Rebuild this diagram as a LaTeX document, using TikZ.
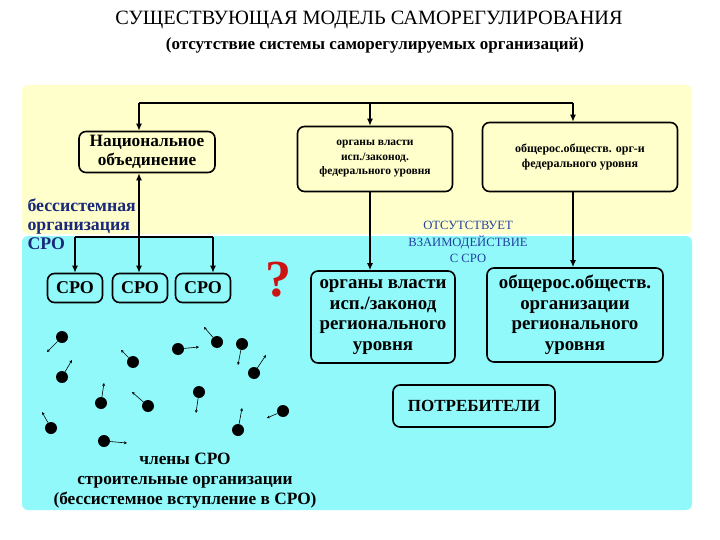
\documentclass[tikz,border=0pt]{standalone}
\usepackage{fontspec}
\setmainfont{Liberation Serif}
\usepackage{tikz}
\usetikzlibrary{arrows.meta}

\definecolor{paleyellow}{RGB}{255,255,204}
\definecolor{palecyan}{RGB}{145,249,250}
\definecolor{darkblue}{RGB}{25,40,120}
\definecolor{textblue}{RGB}{35,65,160}
\definecolor{qred}{RGB}{205,20,20}

\begin{document}
\begin{tikzpicture}[x=1pt, y=-1pt, >={Latex[length=7pt,width=6pt]},
  box/.style={draw, line width=1.6pt, rounded corners=7pt, align=center, inner sep=2pt},
  link/.style={->, line width=1.2pt},
  dot/.style={circle, fill=black, inner sep=0pt, minimum size=12pt},
  drift/.style={-{Stealth[length=3pt,width=3pt]}, line width=0.6pt}]
  \useasboundingbox (0,0) rectangle (720,540);

  % Title
  \node[font=\fontsize{20.3}{22}\selectfont] (title) at (369,20) {СУЩЕСТВУЮЩАЯ МОДЕЛЬ САМОРЕГУЛИРОВАНИЯ};
  \node[font=\fontsize{17}{19}\selectfont\bfseries] (subtitle) at (375,45) {(отсутствие системы саморегулируемых организаций)};

  % Backgrounds
  \fill[paleyellow, rounded corners=6pt] (22,85) rectangle (692,234);
  \fill[palecyan, rounded corners=6pt] (22,236) rectangle (692,510);

  % Federal level
  \node[box, minimum width=136pt, minimum height=41pt, font=\fontsize{17.3}{19}\selectfont\bfseries] (nat) at (147,152)
    {Национальное\\ объединение};
  \node[box, minimum width=155pt, minimum height=65pt, font=\fontsize{11.5}{14.5}\selectfont\bfseries] (fedorg) at (375,159)
    {органы власти\\ исп./законод.\\ федерального уровня};
  \node[box, minimum width=195pt, minimum height=69pt, font=\fontsize{12}{14.5}\selectfont\bfseries] (fedobsh) at (580,157)
    {общерос.обществ. орг-и\\ федерального уровня};

  % Regional level
  \node[box, minimum width=144pt, minimum height=92pt, font=\fontsize{18.9}{20.5}\selectfont\bfseries] (regorg) at (383,317)
    {органы власти\\ исп./законод\\ регионального\\ уровня};
  \node[box, minimum width=176pt, minimum height=94pt, font=\fontsize{18.9}{20.5}\selectfont\bfseries] (regobsh) at (575,315)
    {общерос.обществ.\\ организации\\ регионального\\ уровня};
  \node[box, minimum width=162pt, minimum height=42pt, font=\fontsize{17}{18}\selectfont\bfseries] (users) at (474,406)
    {ПОТРЕБИТЕЛИ};

  % SRO boxes
  \node[box, minimum width=55pt, minimum height=29pt, font=\fontsize{18}{18}\selectfont\bfseries] (sro1) at (75,288) {СРО};
  \node[box, minimum width=55pt, minimum height=29pt, font=\fontsize{18}{18}\selectfont\bfseries] (sro2) at (140,288) {СРО};
  \node[box, minimum width=55pt, minimum height=29pt, font=\fontsize{18}{18}\selectfont\bfseries] (sro3) at (203,288) {СРО};

  % Labels
  \node[anchor=west, align=left, text=darkblue, font=\fontsize{17.8}{19}\selectfont\bfseries] (chaos) at (24,224)
    {бессистемная\\ организация\\ СРО};
  \node[align=center, text=textblue, font=\fontsize{12.6}{16.5}\selectfont] (nolink) at (468,242)
    {ОТСУТСТВУЕТ\\ ВЗАИМОДЕЙСТВИЕ\\ С СРО};
  \node[text=qred, font=\fontsize{52}{52}\selectfont\bfseries] (quest) at (278,280) {?};
  \node[align=center, font=\fontsize{17.3}{20}\selectfont\bfseries] (members) at (185,481)
    {члены СРО\\ строительные организации\\ (бессистемное вступление в СРО)};

  % Connectors
  \coordinate (topL) at (139,103);
  \coordinate (topM) at (370,103);
  \coordinate (topR) at (573,103);
  \draw[line width=1.2pt] (topL) -- (topR);
  \draw[link] (topL) -- (topL |- nat.north);
  \draw[link] (topM) -- (topM |- fedorg.north);
  \draw[link] (topR) -- (topR |- fedobsh.north);
  \draw[link] (topM |- fedorg.south) -- (topM |- regorg.north);
  \draw[link] (topR |- fedobsh.south) -- (topR |- regobsh.north);

  \coordinate (split) at (139,237);
  \coordinate (splitL) at (75,237);
  \coordinate (splitR) at (213,237);
  \draw[link] (split) -- (split |- nat.south);
  \draw[line width=1.2pt] (splitL) -- (splitR);
  \draw[link] (splitL) -- (splitL |- sro1.north);
  \draw[link] (split) -- (split |- sro2.north);
  \draw[link] (splitR) -- (splitR |- sro3.north);

  % Members drifting around
  \foreach \i/\dx/\dy/\tx/\ty in {1/62/337/47/352, 2/62/377/72/360, 3/133/362/121/350,
      4/178/349/199/347, 5/217/342/204/327, 6/242/344/238/365, 7/254/373/266/355,
      8/101/403/104/383, 9/148/406/132/392, 10/199/392/196/413, 11/51/428/42/412,
      12/104/441/127/443, 13/238/430/242/408, 14/283/411/267/418} {
    \node[dot] (m\i) at (\dx,\dy) {};
    \coordinate (t\i) at (\tx,\ty);
    \draw[drift] (m\i) -- (t\i);
  }

\end{tikzpicture}
\end{document}
